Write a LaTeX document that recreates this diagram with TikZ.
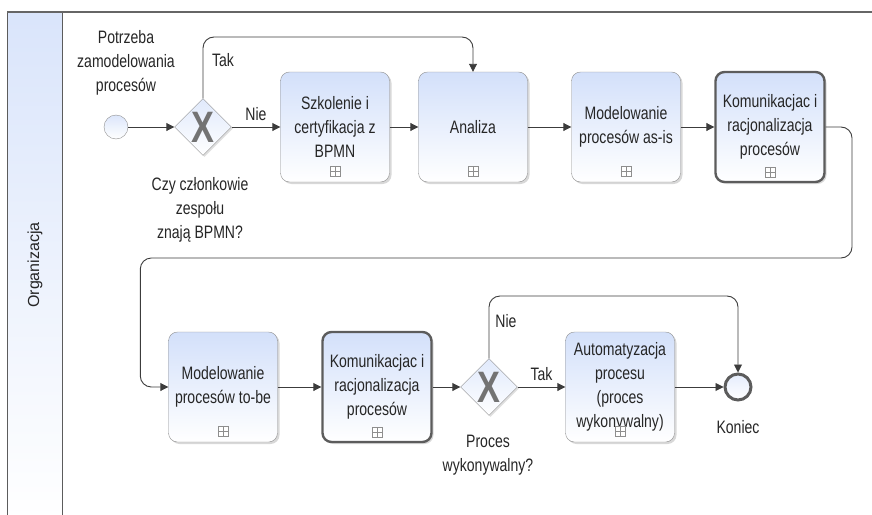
\documentclass[tikz,border=0pt]{standalone}
\usepackage{fontspec}
\setmainfont{Liberation Sans}[FakeStretch=0.78]
\newfontfamily\lanefont{Liberation Sans}
\usetikzlibrary{shapes.geometric}
\usetikzlibrary{shadows}
\usetikzlibrary{calc}
\usetikzlibrary{positioning}
\usetikzlibrary{arrows.meta}

\definecolor{bpmnfill}{HTML}{D3E0FA}
\definecolor{bpmnline}{HTML}{8E8E8E}
\definecolor{bpmndark}{HTML}{5C5C5C}
\definecolor{flowline}{HTML}{3C3C3C}

\tikzset{
  task/.style={draw=bpmnline, rounded corners=9pt, minimum width=109pt, minimum height=110pt,
    inner sep=2pt, top color=bpmnfill, bottom color=white, align=center,
    font=\fontsize{18}{24}\selectfont, text=black!85,
    drop shadow={shadow xshift=2pt, shadow yshift=-2pt, fill=black!30}},
  keytask/.style={task, draw=bpmndark, line width=2.4pt},
  gateway/.style={diamond, draw=bpmnline, minimum width=57pt, minimum height=57pt, inner sep=0pt,
    top color=bpmnfill!70, bottom color=white, text=black!55,
    font=\fontsize{44}{44}\selectfont\bfseries,
    drop shadow={shadow xshift=1.5pt, shadow yshift=-1.5pt, fill=black!25}},
  startev/.style={circle, draw=bpmnline, minimum size=24pt, inner sep=0pt,
    top color=bpmnfill!80, bottom color=white},
  endev/.style={circle, draw=bpmndark, line width=3pt, minimum size=26pt, inner sep=0pt,
    top color=bpmnfill!60, bottom color=white},
  txt/.style={align=center, font=\fontsize{18}{24}\selectfont, text=black!85},
  flow/.style={draw=flowline, line width=0.9pt, -{Triangle[length=8pt,width=8pt]}},
  loopflow/.style={flow, rounded corners=11pt},
  marker/.style={draw=bpmnline, fill=white, line width=0.6pt}
}

\begin{document}
\begin{tikzpicture}[x=1pt,y=-1pt]
  \useasboundingbox (0,0) rectangle (872,514);

  % pool and lane
  \draw[bpmndark, line width=1pt, top color=bpmnfill!85, bottom color=white] (7,12) rectangle (62,520);
  \draw[black!60, line width=2pt] (7,12) -- (872,12);
  \node[rotate=90, font=\lanefont\fontsize{16}{16}\selectfont, text=black!85] (lane) at (35,265) {Organizacja};

  % first row
  \node[startev] (start) at (116,127) {};
  \node[gateway] (gw1) at (203,127) {X};
  \node[task] (szk) at (335,127) {Szkolenie i\\certyfikacja z\\BPMN};
  \node[task] (anal) at (473,127) {Analiza};
  \node[task] (asis) at (626,127) {Modelowanie\\procesów as-is};
  \node[keytask] (kom1) at (770,127) {Komunikacjac i\\racjonalizacja\\procesów};

  % second row
  \node[task] (tobe) at (223,387) {Modelowanie\\procesów to-be};
  \node[keytask] (kom2) at (377,387) {Komunikacjac i\\racjonalizacja\\procesów};
  \node[gateway] (gw2) at (489,387) {X};
  \node[task] (auto) at (620,387) {Automatyzacja\\procesu\\(proces\\wykonywalny)};
  \node[endev] (end) at (738,387) {};

  % subprocess markers
  \foreach \t in {szk,anal,asis,kom1,tobe,kom2,auto}{
    \draw[marker] ($(\t.south)+(-5,-16)$) rectangle ($(\t.south)+(5,-6)$);
    \draw[marker] ($(\t.south)+(0,-16)$) -- ($(\t.south)+(0,-6)$);
    \draw[marker] ($(\t.south)+(-5,-11)$) -- ($(\t.south)+(5,-11)$);
  }

  % labels
  \node[txt] (startlbl) at (126,63) {Potrzeba\\zamodelowania\\procesów};
  \node[txt] (gw1lbl) at (200,210) {Czy członkowie\\zespołu\\znają BPMN?};
  \node[txt] (gw2lbl) at (488,455) {Proces\\wykonywalny?};
  \node[txt] (endlbl) at (738,427) {Koniec};

  % flows
  \coordinate (tak1) at (203,37);
  \coordinate (turn) at (852,258);
  \coordinate (nie2) at (489,296);

  \draw[flow] (start) -- (gw1);
  \draw[flow] (gw1) -- node[txt, above=3pt] (nie1lbl) {Nie} (szk);
  \draw[loopflow] (gw1.north) -- (tak1) -| (anal.north);
  \node[txt] (tak1lbl) at (223,60) {Tak};
  \draw[flow] (szk) -- (anal);
  \draw[flow] (anal) -- (asis);
  \draw[flow] (asis) -- (kom1);
  \draw[loopflow] (kom1.east) -| (turn) -| ($(tobe.west)+(-28,0)$) -- (tobe.west);
  \draw[flow] (tobe) -- (kom2);
  \draw[flow] (kom2) -- (gw2);
  \draw[flow] (gw2) -- node[txt, above=3pt] (tak2lbl) {Tak} (auto);
  \draw[loopflow] (gw2.north) -- (nie2) -| (end.north);
  \node[txt] (nie2lbl) at (506,321) {Nie};
  \draw[flow] (auto) -- (end);
\end{tikzpicture}
\end{document}
